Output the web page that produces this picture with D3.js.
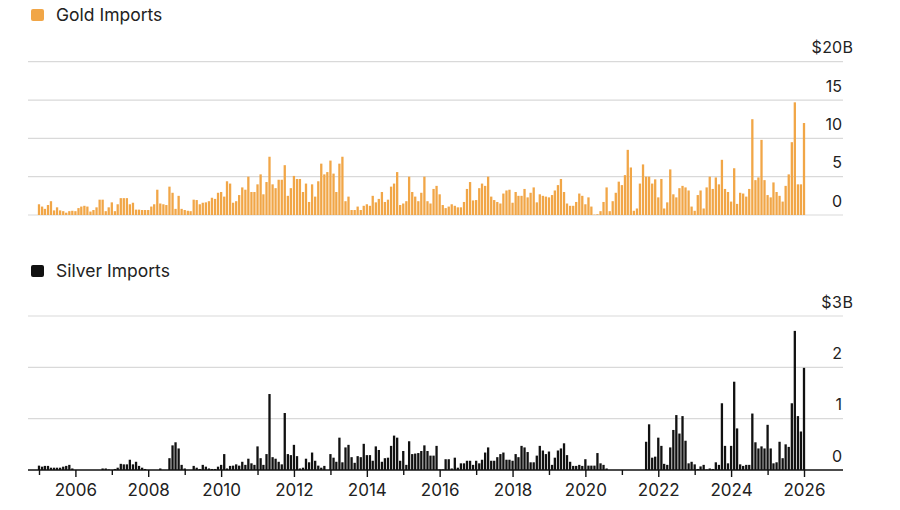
<!DOCTYPE html>
<html>
<head>
<meta charset="utf-8">
<script src="https://cdn.jsdelivr.net/npm/d3@7"></script>
<style>
  body { margin: 0; background: #fff; }
  text { font-family: Inter, "Liberation Sans", Arial, sans-serif; fill: #222; }
</style>
</head>
<body>
<svg id="chart" width="900" height="510"></svg>
<script>
// monthly values, Jan 2005 .. Jan 2026, in $B
const goldImports = [
  1.4, 1.1, 0.8, 1.3, 1.8, 0.6, 1.0, 0.6, 0.5, 0.3, 0.5, 0.55,      // 2005
  0.5, 0.9, 1.1, 1.2, 1.1, 0.45, 0.65, 1.0, 2.0, 2.0, 0.5, 1.0,     // 2006
  1.65, 0.5, 1.4, 2.2, 2.2, 2.2, 1.4, 1.6, 0.7, 0.7, 0.65, 0.65,    // 2007
  0.65, 1.1, 1.4, 3.3, 1.5, 1.4, 1.3, 3.7, 2.9, 0.8, 2.5, 0.8,      // 2008
  0.65, 0.55, 0.5, 2.0, 1.95, 1.4, 1.6, 1.65, 1.8, 2.25, 2.1, 2.9,  // 2009
  3.0, 2.4, 4.4, 4.1, 1.6, 1.8, 2.6, 3.6, 3.3, 5.0, 3.0, 3.0,       // 2010
  4.0, 5.3, 2.7, 4.3, 7.6, 4.0, 3.5, 4.6, 4.6, 6.5, 2.5, 3.5,       // 2011
  5.1, 4.7, 4.7, 3.0, 4.1, 1.7, 4.0, 2.4, 4.4, 6.7, 5.3, 5.6,       // 2012
  7.1, 5.4, 3.0, 6.7, 7.6, 1.8, 2.4, 0.65, 0.65, 1.1, 0.65, 1.2,    // 2013
  1.4, 1.2, 2.5, 1.65, 2.1, 3.0, 1.7, 2.0, 3.7, 4.1, 5.6, 1.3,      // 2014
  1.5, 1.8, 5.0, 3.0, 2.4, 1.8, 2.9, 5.0, 1.8, 1.5, 3.4, 3.8,       // 2015
  2.7, 1.3, 0.9, 1.1, 1.4, 1.2, 1.0, 1.0, 1.7, 3.4, 4.3, 1.9,       // 2016
  1.95, 3.5, 4.1, 3.8, 5.0, 2.4, 1.95, 1.7, 1.5, 2.8, 3.2, 3.3,     // 2017
  1.6, 3.0, 2.5, 2.5, 3.4, 2.3, 2.9, 3.6, 1.65, 2.7, 2.5, 2.4,      // 2018
  2.3, 2.6, 3.2, 3.9, 4.7, 3.0, 1.5, 1.2, 1.2, 1.7, 2.8, 2.5,       // 2019
  1.4, 2.3, 1.1, 0.05, 0.1, 0.5, 1.7, 3.6, 0.5, 1.8, 2.9, 4.35,     // 2020
  3.9, 5.2, 8.5, 6.2, 0.55, 0.85, 4.1, 6.6, 5.0, 5.0, 4.1, 4.65,    // 2021
  2.3, 4.7, 0.85, 1.65, 5.95, 2.7, 2.3, 3.5, 3.8, 3.6, 3.2, 1.1,    // 2022
  0.55, 2.6, 3.2, 0.85, 3.6, 5.0, 3.4, 4.9, 4.0, 7.2, 3.4, 3.0,     // 2023
  1.75, 6.1, 1.45, 2.9, 2.8, 2.4, 3.4, 12.5, 4.55, 4.9, 9.8, 4.55,  // 2024
  2.6, 2.3, 4.25, 3.0, 2.5, 1.75, 3.8, 5.3, 9.5, 14.7, 4.0, 4.0,    // 2025
  12.0                                                              // 2026
]

const silverImports = [
  0.085, 0.065, 0.08, 0.08, 0.045, 0.045, 0.045, 0.045, 0.065, 0.08, 0.1, 0.03, // 2005
  0, 0, 0, 0, 0, 0, 0, 0, 0, 0.03, 0.03, 0.01,                                   // 2006
  0, 0.02, 0.045, 0.12, 0.11, 0.11, 0.2, 0.11, 0.16, 0.08, 0.045, 0.02,          // 2007
  0, 0, 0, 0, 0.03, 0, 0, 0.23, 0.48, 0.54, 0.42, 0.1,                           // 2008
  0.03, 0, 0, 0.08, 0.045, 0.02, 0.1, 0.065, 0.03, 0.02, 0.02, 0.065,            // 2009
  0.1, 0.31, 0.03, 0.08, 0.085, 0.11, 0.085, 0.16, 0.1, 0.22, 0.13, 0.1,         // 2010
  0.46, 0.23, 0.1, 0.31, 1.48, 0.25, 0.22, 0.16, 0.11, 1.11, 0.31, 0.29,         // 2011
  0.49, 0.27, 0.03, 0.045, 0.22, 0.15, 0.34, 0.18, 0.085, 0.045, 0.08, 0,        // 2012
  0.31, 0.24, 0.16, 0.63, 0.15, 0.44, 0.49, 0.25, 0.14, 0.27, 0.25, 0.51,        // 2013
  0.29, 0.29, 0.18, 0.46, 0.39, 0.16, 0.23, 0.24, 0.47, 0.67, 0.63, 0.18,        // 2014
  0.37, 0.1, 0.56, 0.31, 0.32, 0.33, 0.37, 0.48, 0.37, 0.28, 0.28, 0.47,         // 2015
  0.01, 0.01, 0.21, 0.21, 0.03, 0.24, 0.045, 0.13, 0.13, 0.18, 0.18, 0.1,        // 2016
  0.18, 0.13, 0.2, 0.34, 0.44, 0.18, 0.18, 0.25, 0.31, 0.34, 0.2, 0.2,           // 2017
  0.18, 0.31, 0.25, 0.47, 0.44, 0.35, 0.15, 0.15, 0.28, 0.47, 0.38, 0.31,        // 2018
  0.36, 0.1, 0.24, 0.38, 0.42, 0.52, 0.29, 0.16, 0.08, 0.08, 0.1, 0.08,          // 2019
  0.21, 0.085, 0.085, 0.085, 0.33, 0.13, 0.1, 0.03, 0, 0, 0, 0,                  // 2020
  0, 0, 0, 0, 0, 0, 0, 0, 0.55, 0.89, 0.24, 0.26,                                // 2021
  0.63, 0.47, 0.12, 0.1, 0.44, 0.78, 1.07, 0.71, 1.05, 0.57, 0.13, 0.16,         // 2022
  0.11, 0.02, 0.07, 0.1, 0.01, 0.03, 0.02, 0.15, 0.1, 1.3, 0.47, 0.13,           // 2023
  0.47, 1.72, 0.81, 0.11, 0.08, 0.1, 0.1, 1.1, 0.54, 0.42, 0.46, 0.42,           // 2024
  0.88, 0.42, 0.13, 0.15, 0.55, 0.23, 0.5, 0.45, 1.3, 2.71, 1.05, 0.75,          // 2025
  1.99                                                                           // 2026
]

const goldTicks = [0, 5, 10, 15, 20]
const silverTicks = [0, 1, 2, 3]
const tickYears = d3.range(2005, 2027)
const labelYears = [2006, 2008, 2010, 2012, 2014, 2016, 2018, 2020, 2022, 2024, 2026]

const goldColor = '#f1a647'
const silverColor = '#111'
const gridColor = '#d9d9d9'
const fontStack = 'Inter, "Liberation Sans", Arial, sans-serif'

const svg = d3.select('#chart')

const left = 28
const right = 843
const barWidth = 2.3

// shared time axis
const x = d3.scaleTime()
    .domain([new Date(2005, 0, 1), new Date(2026, 0, 1)])
    .range([39, 804])

const toRows = values => values.map((v, i) => ({ date: new Date(2005, i, 1), value: v }))

//gold panel
drawPanel({
    rows: toRows(goldImports),
    y: d3.scaleLinear().domain([0, 20]).range([215, 61.7]),
    ticks: goldTicks,
    color: goldColor,
    unit: 'B',
    title: 'Gold Imports',
    titleY: 21,
    darkBase: false
})

//silver panel
const ySilver = d3.scaleLinear().domain([0, 3]).range([470, 316])
drawPanel({
    rows: toRows(silverImports),
    y: ySilver,
    ticks: silverTicks,
    color: silverColor,
    unit: 'B',
    title: 'Silver Imports',
    titleY: 277,
    darkBase: true
})

// year axis under the silver panel
const xAxis = d3.axisBottom(x)
    .tickValues(tickYears.map(yr => new Date(yr, 0, 1)))
    .tickSize(7)
    .tickPadding(7)
    .tickFormat(d => labelYears.includes(d.getFullYear()) ? d.getFullYear() : '')

const xAxisG = svg.append('g')
    .attr('transform', `translate(0, ${ySilver(0)})`)
    .call(xAxis)
xAxisG.select('.domain').remove()
xAxisG.selectAll('.tick line')
    .attr('stroke', '#111')
    .attr('stroke-width', 1.4)
    .attr('y2', d => d.getFullYear() % 2 === 0 ? 7 : 5)
xAxisG.selectAll('.tick text')
    .attr('font-size', 17)
    .attr('fill', '#222')
    .attr('font-family', fontStack)

function drawPanel(p) {
    const g = svg.append('g')

    //legend
    g.append('rect')
        .attr('x', 31).attr('y', p.titleY - 12)
        .attr('width', 13).attr('height', 12)
        .attr('rx', 2)
        .attr('fill', p.color)
    g.append('text')
        .attr('x', 56).attr('y', p.titleY)
        .attr('font-size', 17.5)
        .text(p.title)

    //gridlines
    g.selectAll('.grid')
        .data(p.ticks)
        .enter().append('line')
        .attr('x1', left).attr('x2', right)
        .attr('y1', d => p.y(d)).attr('y2', d => p.y(d))
        .attr('stroke', d => (d === 0 && p.darkBase) ? '#111' : gridColor)
        .attr('stroke-width', d => (d === 0 && p.darkBase) ? 1.4 : 1.2)

    //bars
    g.selectAll('.bar')
        .data(p.rows)
        .enter().append('rect')
        .attr('x', d => x(d.date) - barWidth / 2)
        .attr('width', barWidth)
        .attr('y', d => p.y(d.value))
        .attr('height', d => p.y(0) - p.y(d.value))
        .attr('fill', p.color)

    //tick labels, top one gets $ and unit
    const maxTick = d3.max(p.ticks)
    p.ticks.forEach(t => {
        const label = g.append('text')
            .attr('x', 842)
            .attr('y', p.y(t) - 8.5)
            .attr('text-anchor', 'end')
            .attr('font-size', 16)
            .text(t)
        if (t === maxTick) {
            const box = label.node().getBBox()
            g.append('text')
                .attr('x', box.x - 0.5).attr('y', p.y(t) - 8.5)
                .attr('text-anchor', 'end')
                .attr('font-size', 16)
                .text('$')
            g.append('text')
                .attr('x', 842.5).attr('y', p.y(t) - 8.5)
                .attr('font-size', 16)
                .text(p.unit)
        }
    })
}
</script>
</body>
</html>
